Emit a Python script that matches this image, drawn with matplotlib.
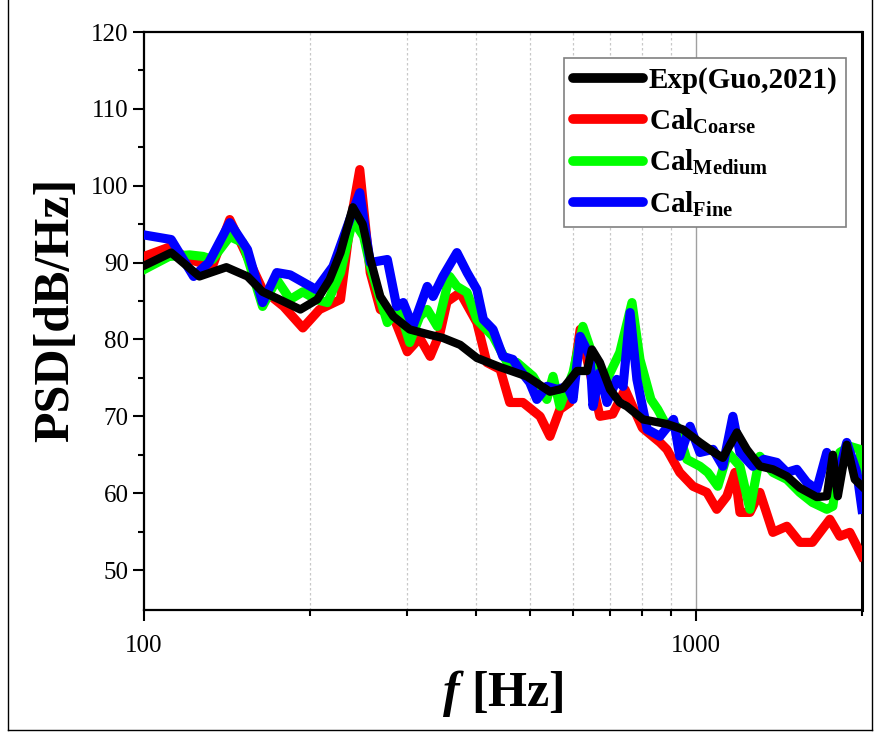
import matplotlib
matplotlib.use("Agg")
import matplotlib.pyplot as plt
from matplotlib.lines import Line2D
from matplotlib.ticker import FixedLocator, NullFormatter

plt.rcParams['font.family'] = ['Liberation Serif', 'DejaVu Serif']
plt.rcParams['mathtext.fontset'] = 'custom'
plt.rcParams['mathtext.bf'] = 'Liberation Serif:bold'
plt.rcParams['mathtext.it'] = 'Liberation Serif:italic:bold'
plt.rcParams['mathtext.rm'] = 'Liberation Serif:bold'

# Exp (Guo, 2021)
exp_f = [100, 112, 126, 141, 154, 164, 176, 192, 206, 217, 227, 239, 249, 257, 268,
         283, 303, 330, 348, 374, 401, 442, 494, 544, 574, 609, 635, 648, 670, 699,
         728, 750, 802, 886, 947, 1017, 1074, 1119, 1187, 1237, 1306, 1379, 1462,
         1543, 1656, 1727, 1771, 1808, 1877, 1941, 2000]
exp_v = [89.6, 91.3, 88.2, 89.4, 88.2, 86.2, 85.2, 83.9, 85.2, 87.8, 91.3, 97.2, 95.0,
         90.5, 85.6, 83.0, 81.3, 80.6, 80.2, 79.3, 77.6, 76.4, 75.2, 73.2, 73.6, 75.9,
         75.9, 78.7, 77.0, 73.5, 71.8, 71.3, 69.6, 69.0, 68.3, 66.6, 65.4, 64.6, 67.9,
         65.7, 63.5, 63.1, 62.2, 60.7, 59.5, 59.6, 65.0, 59.6, 66.3, 61.8, 60.9]

# Cal coarse
coarse_f = [100, 111, 121, 133, 143, 151, 164, 179, 194, 208, 227, 236, 246, 257, 268,
            283, 300, 316, 330, 344, 354, 374, 401, 418, 442, 460, 486, 522, 544, 567,
            591, 617, 643, 670, 707, 744, 800, 861, 886, 935, 988, 1047, 1091, 1138,
            1177, 1202, 1253, 1306, 1379, 1462, 1543, 1626, 1749, 1823, 1901, 2000]
coarse_v = [90.8, 92.0, 90.4, 89.5, 95.6, 92.0, 86.5, 84.3, 81.5, 83.9, 85.2, 94.7,
            102.1, 88.7, 83.9, 83.0, 78.4, 80.2, 77.8, 80.9, 84.9, 86.1, 82.2, 77.0,
            76.1, 71.8, 71.8, 70.0, 67.4, 70.9, 71.8, 81.3, 75.7, 70.0, 70.3, 73.5,
            68.5, 66.6, 65.7, 62.7, 60.9, 60.1, 57.9, 59.6, 62.7, 57.5, 57.5, 60.1,
            54.9, 55.7, 53.6, 53.6, 56.6, 54.4, 54.9, 51.8]

# Cal medium
medium_f = [100, 111, 121, 128, 133, 143, 151, 164, 174, 184, 194, 205, 215, 227, 239,
            250, 257, 276, 290, 303, 316, 326, 340, 358, 369, 385, 401, 429, 455, 474,
            507, 537, 551, 567, 599, 624, 651, 670, 690, 728, 766, 792, 829, 853, 886,
            923, 963, 1017, 1051, 1096, 1143, 1202, 1253, 1306, 1379, 1462, 1543, 1626,
            1727, 1771, 1823, 1901, 1983, 2000]
medium_v = [89.1, 90.8, 91.0, 90.8, 90.4, 93.4, 92.6, 84.3, 87.8, 85.2, 86.2, 85.2,
            84.8, 88.7, 95.6, 93.4, 89.5, 82.2, 84.0, 79.6, 83.0, 83.9, 81.7, 88.2,
            86.9, 86.1, 82.6, 80.4, 77.0, 77.0, 75.2, 72.2, 75.2, 71.3, 75.7, 81.7,
            77.8, 74.8, 74.8, 78.3, 84.8, 77.4, 72.2, 70.9, 68.7, 68.7, 64.4, 63.5,
            62.7, 60.9, 65.3, 63.5, 57.9, 64.8, 62.7, 61.8, 60.1, 58.8, 57.9, 58.3,
            65.3, 66.1, 65.7, 63.0]

# Cal fine
fine_f = [100, 112, 123, 131, 143, 154, 164, 174, 184, 205, 220, 236, 246, 257, 276,
          287, 295, 307, 326, 334, 348, 369, 385, 401, 412, 429, 447, 466, 479, 500,
          515, 537, 561, 585, 599, 617, 643, 651, 670, 690, 719, 738, 760, 782, 816,
          861, 911, 935, 976, 1017, 1074, 1119, 1167, 1202, 1268, 1328, 1402, 1462,
          1524, 1589, 1656, 1727, 1801, 1877, 1958, 2000]
fine_v = [93.6, 93.0, 88.2, 90.0, 95.2, 91.7, 84.8, 88.7, 88.4, 86.5, 89.5, 95.6, 99.1,
          90.0, 90.4, 84.3, 84.8, 81.7, 86.9, 85.6, 88.2, 91.3, 88.7, 86.5, 82.6, 81.3,
          77.8, 77.4, 76.1, 74.4, 72.2, 73.9, 73.5, 73.9, 72.2, 80.4, 77.8, 71.3, 75.7,
          71.8, 74.8, 73.9, 83.5, 74.8, 68.3, 67.4, 69.6, 64.8, 68.7, 65.3, 65.7, 63.5,
          70.0, 65.3, 63.5, 64.4, 64.0, 62.7, 63.1, 61.4, 60.5, 65.3, 61.8, 66.6, 62.7,
          57.9]

fig = plt.figure(figsize=(8.76, 7.33), dpi=100)
ax = fig.add_axes([0.1644, 0.1678, 0.8196, 0.7885])

lw = 6.6
ax.plot(coarse_f, coarse_v, color='#ff0000', lw=lw, solid_joinstyle='round', zorder=3)
ax.plot(medium_f, medium_v, color='#00ff00', lw=lw, solid_joinstyle='round', zorder=4)
ax.plot(fine_f, fine_v, color='#0000ff', lw=lw, solid_joinstyle='round', zorder=5)
ax.plot(exp_f, exp_v, color='black', lw=6.0, solid_joinstyle='round', zorder=6)

ax.set_xscale('log')
ax.set_xlim(100, 2000)
ax.set_ylim(44.8, 120)

ax.xaxis.set_major_locator(FixedLocator([100, 1000]))
ax.xaxis.set_minor_locator(FixedLocator([200, 300, 400, 500, 600, 700, 800, 900, 2000]))
ax.xaxis.set_minor_formatter(NullFormatter())
ax.set_xticklabels(['100', '1000'])
ax.set_yticks(range(50, 121, 10))
ax.yaxis.set_minor_locator(FixedLocator(range(55, 120, 10)))

for x in [200, 300, 400, 500, 600, 700, 800, 900]:
    ax.axvline(x, color='#c8c8c8', lw=0.9, ls=(0, (2, 2)), zorder=1)
ax.axvline(1000, color='#a0a0a0', lw=1.0, zorder=1)

ax.tick_params(axis='both', which='major', direction='out', length=8, width=1.5,
               labelsize=18, pad=3, top=False, right=False)
ax.tick_params(axis='both', which='minor', direction='out', length=4, width=1.5,
               top=False, right=False)
ax.tick_params(axis='x', which='major', pad=10)
for s in ax.spines.values():
    s.set_linewidth(1.6)
ax.spines['right'].set_linewidth(2.2)

ax.set_ylabel('PSD[dB/Hz]', fontsize=36, fontweight='bold')
ax.yaxis.set_label_coords(-0.09, 0.52)
ax.set_xlabel(r'$f$ [Hz]', fontsize=36, fontweight='bold', labelpad=8)

leg = ax.legend(handles=[
    Line2D([], [], color='black', lw=7, solid_capstyle='round'),
    Line2D([], [], color='#ff0000', lw=7, solid_capstyle='round'),
    Line2D([], [], color='#00ff00', lw=7, solid_capstyle='round'),
    Line2D([], [], color='#0000ff', lw=7, solid_capstyle='round')],
    labels=['Exp(Guo,2021)', r'Cal$_{\mathbf{Coarse}}$', r'Cal$_{\mathbf{Medium}}$',
            r'Cal$_{\mathbf{Fine}}$'],
    loc='upper right', bbox_to_anchor=(0.986, 0.965), fancybox=False,
    prop={'family': 'Liberation Serif', 'weight': 'bold', 'size': 21},
    handlelength=2.4, handletextpad=0.2, labelspacing=0.42, borderpad=0.3,
    borderaxespad=0.2, framealpha=1)
leg.get_frame().set_edgecolor('#808080')
leg.get_frame().set_linewidth(1.2)
leg.set_zorder(10)

# outer frame of the picture
for xs, ys in [([0.009, 0.009], [0.004, 1.0]), ([0.009, 0.996], [0.004, 0.004]),
               ([0.996, 0.996], [0.004, 1.0])]:
    fig.add_artist(Line2D(xs, ys, color='black', lw=1.0, transform=fig.transFigure))

fig.savefig('out.png', dpi=100)
